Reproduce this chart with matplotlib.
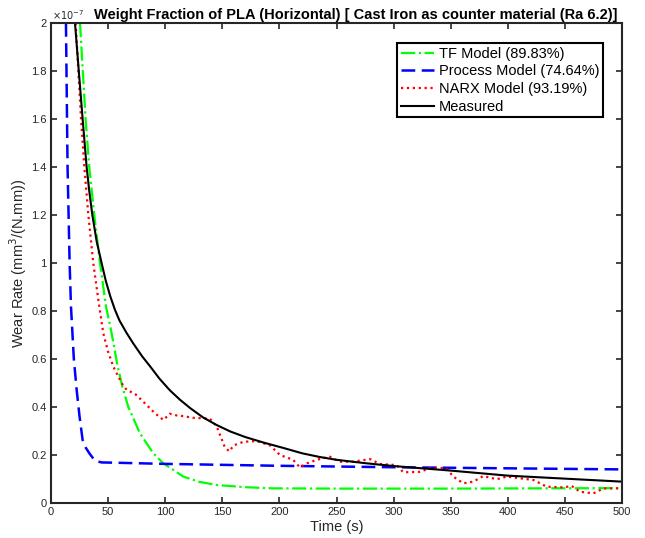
import matplotlib
matplotlib.use("Agg")
import matplotlib.pyplot as plt

plt.rcParams['font.family'] = ['Liberation Sans', 'DejaVu Sans']

# values, wear rate in units of 1e-7 mm^3/(N.mm)
measured_t = [21, 24.5, 27.7, 31.2, 33.5, 36.2, 40, 44.3, 48, 52, 56, 60, 66, 72,
              80, 87, 95, 104, 113, 122, 133, 145, 157, 170, 186, 203, 220, 235,
              250, 275, 300, 350, 400, 450, 500]
measured_w = [2.0, 1.79, 1.6, 1.4, 1.3, 1.2, 1.09, 1.0, 0.925, 0.86, 0.805, 0.76,
              0.71, 0.665, 0.61, 0.568, 0.518, 0.47, 0.43, 0.395, 0.357, 0.325,
              0.298, 0.275, 0.252, 0.23, 0.207, 0.192, 0.18, 0.166, 0.154, 0.135,
              0.114, 0.1015, 0.089]

tf_t = [25.4, 30.3, 33.5, 37.9, 42.9, 46.4, 48.2, 53.1, 58.4, 62.5, 67.7, 77.9,
        89.6, 98.4, 115.9, 130, 145, 170, 194, 250, 350, 500]
tf_w = [2.0, 1.6, 1.4, 1.2, 1.0, 0.88, 0.818, 0.707, 0.568, 0.485, 0.40, 0.29,
        0.207, 0.165, 0.11, 0.088, 0.075, 0.066, 0.061, 0.060, 0.060, 0.062]

process_t = [13.1, 14.5, 16.3, 17.5, 20, 22.5, 25, 27.7, 30.5, 33.6, 38.5,
             44.4, 55, 100, 200, 300, 400, 500]
process_w = [2.0, 1.4, 1.0, 0.818, 0.60, 0.47, 0.36, 0.2625, 0.23, 0.207, 0.176,
             0.169, 0.168, 0.163, 0.155, 0.149, 0.1445, 0.14]

narx_t = [21.6, 26.3, 29.2, 32.7, 37, 42.3, 45.8, 50, 54.6, 61.9, 66.3, 73.6,
          82.3, 91, 98.4, 104, 110, 116, 124, 132, 139, 145, 152, 156, 160,
          168.5, 180, 191.8, 200.5, 212, 218, 224, 232.7, 244, 253, 264.8,
          279.3, 288, 302.6, 308.5, 323, 334.7, 346.4, 352.3, 361, 369.8,
          378.6, 390.3, 399, 410.7, 422.4, 434, 448.6, 456, 463.2, 475, 483.7, 500]
narx_w = [2.0, 1.6, 1.4, 1.2, 1.0, 0.818, 0.707, 0.63, 0.568, 0.499, 0.471, 0.455,
          0.415, 0.374, 0.346, 0.372, 0.365, 0.362, 0.355, 0.353, 0.352, 0.32,
          0.235, 0.215, 0.24, 0.255, 0.258, 0.24, 0.20, 0.18, 0.148, 0.165,
          0.18, 0.193, 0.172, 0.172, 0.183, 0.1625, 0.158, 0.128, 0.13, 0.149,
          0.143, 0.11, 0.082, 0.089, 0.1125, 0.099, 0.11, 0.103, 0.096, 0.068,
          0.065, 0.071, 0.047, 0.04, 0.061, 0.061]

labels = ['TF Model (89.83%)', 'Process Model (74.64%)',
          'NARX Model (93.19%)', 'Measured']

x_ticks = list(range(0, 501, 50))
y_ticks = [0, 0.2, 0.4, 0.6, 0.8, 1, 1.2, 1.4, 1.6, 1.8, 2]
y_tick_labels = ['0', '0.2', '0.4', '0.6', '0.8', '1', '1.2', '1.4', '1.6', '1.8', '2']

axis_col = '#262626'

fig = plt.figure(figsize=(6.45, 5.38), dpi=100)
ax = fig.add_axes([51 / 645, 35 / 538, 571 / 645, 480 / 538])

ax.plot(tf_t, tf_w, color=(0, 1, 0), ls='-.', lw=1.6, label=labels[0])
ax.plot(process_t, process_w, color=(0, 0, 1), ls=(0, (5.5, 2.6)), lw=1.8,
        label=labels[1])
ax.plot(narx_t, narx_w, color=(1, 0, 0), ls=':', lw=1.6, label=labels[2])
ax.plot(measured_t, measured_w, color='black', ls='-', lw=1.5, label=labels[3])

ax.set_xlim(0, 500)
ax.set_ylim(0, 2)
ax.set_xticks(x_ticks)
ax.set_yticks(y_ticks)
ax.set_yticklabels(y_tick_labels)
ax.tick_params(direction='in', top=True, right=True, length=4, width=1.2,
               labelsize=8, colors=axis_col, pad=3)
for s in ax.spines.values():
    s.set_linewidth(1.5)
    s.set_color(axis_col)

ax.text(0.002, 1.003, r'$\times10^{-7}$', transform=ax.transAxes,
        fontsize=7, color=axis_col, ha='left', va='bottom')

ax.set_xlabel('Time (s)', fontsize=10.5, color=axis_col, labelpad=2)
ax.set_ylabel('Wear Rate (mm$^3$/(N.mm))', fontsize=10.5, color=axis_col, labelpad=2)
ax.set_title('Weight Fraction of PLA (Horizontal) [ Cast Iron as counter material (Ra 6.2)]',
             fontsize=10.5, fontweight='bold', x=0.534, pad=3)

leg = ax.legend(loc='upper right', bbox_to_anchor=(0.9667, 0.958), borderaxespad=0,
                fontsize=10.5, fancybox=False, framealpha=1, edgecolor='black',
                handlelength=2.3, handletextpad=0.3, labelspacing=0.25,
                borderpad=0.25)
leg.get_frame().set_linewidth(1.5)

fig.savefig('out.png', dpi=100)
